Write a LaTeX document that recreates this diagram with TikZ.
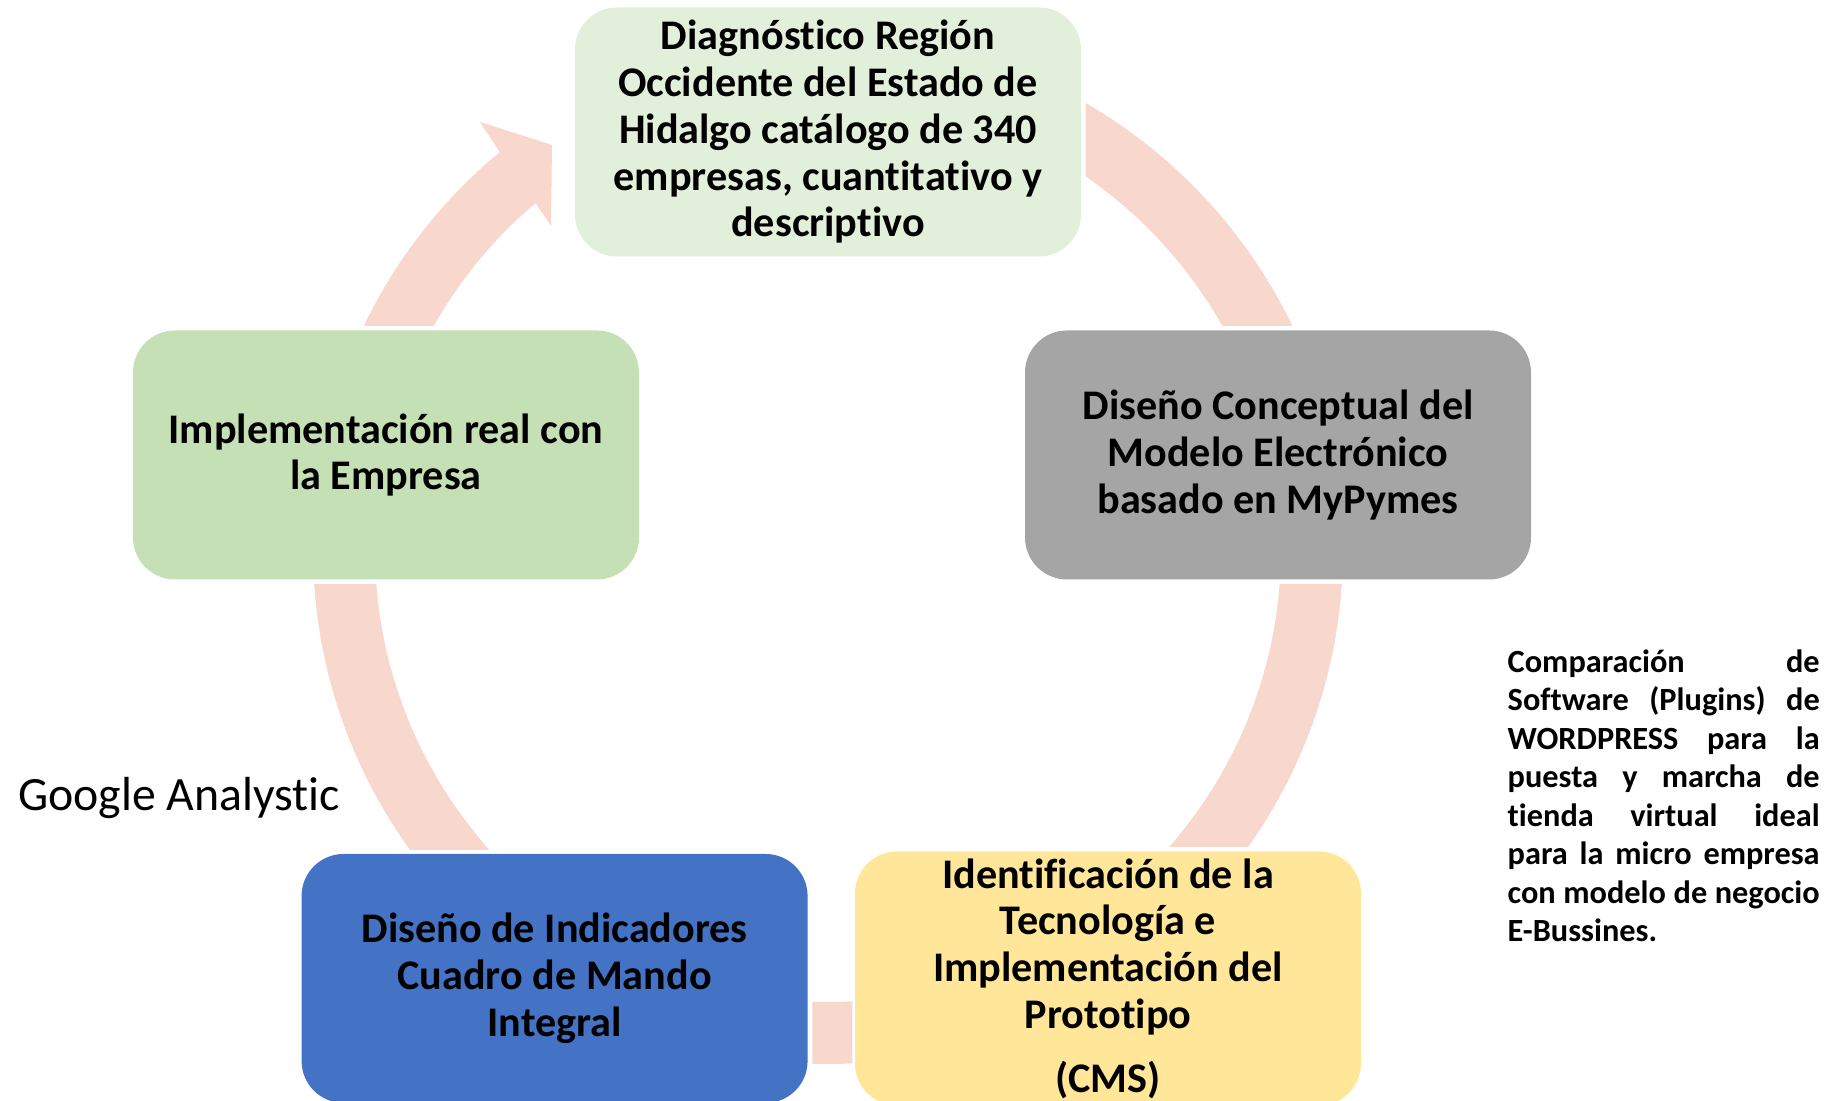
\documentclass[tikz,border=0pt]{standalone}
\usepackage{fontspec}
\setmainfont{Carlito}[Ligatures=NoCommon]
\usetikzlibrary{calc, positioning}
\definecolor{ringcol}{RGB}{248,215,205}
\definecolor{diagcol}{RGB}{226,239,218}
\definecolor{implcol}{RGB}{197,224,180}
\definecolor{disecol}{RGB}{165,165,165}
\definecolor{indiccol}{RGB}{68,114,196}
\definecolor{protocol}{RGB}{255,230,153}
\tikzstyle{ring} = [draw=ringcol, line width=0.62cm]

\begin{document}
\begin{tikzpicture}[
  box/.style={rectangle, rounded corners=0.42cm, minimum width=5.06cm, minimum height=2.49cm, align=center, inner sep=2pt, font=\bfseries\fontsize{12}{13.3}\selectfont},
  note/.style={rectangle, inner sep=0pt, text width=3.12cm, align=justify, font=\bfseries\fontsize{9.2}{10.95}\selectfont}
]
\useasboundingbox (0,0) rectangle (18.32,11.01);
\coordinate (ctr) at (8.28,5.52);

% Steps of the cycle
\node[box, fill=diagcol] (diag) at (8.28,9.69) {Diagnóstico Región\\Occidente del Estado de\\Hidalgo catálogo de 340\\empresas, cuantitativo y\\descriptivo};
\node[box, fill=disecol] (diseno) at (12.78,6.46) {Diseño Conceptual del\\Modelo Electrónico\\basado en MyPymes};
\node[box, fill=protocol] (proto) at (11.08,1.225) {Identificación de la\\Tecnología e\\Implementación del\\Prototipo\\[0.17cm](CMS)};
\node[box, fill=indiccol, left=0.46cm of proto] (indic) {Diseño de Indicadores\\Cuadro de Mando\\Integral};
\node[box, fill=implcol] (impl) at (3.86,6.46) {Implementación real con\\la Empresa};

% Ring pieces between the steps
\begin{scope}
  \clip ([xshift=0.04cm]diag.north east) rectangle ([yshift=0.04cm]diseno.north east);
  \draw[ring] (ctr) circle[radius=4.84];
\end{scope}
\begin{scope}
  \clip ([yshift=-0.04cm]diseno.south west) rectangle ([yshift=0.04cm]proto.north east);
  \draw[ring] (ctr) circle[radius=4.84];
\end{scope}
\begin{scope}
  \clip ([xshift=0.04cm]indic.north east) rectangle ([xshift=-0.02cm]proto.south west);
  \draw[ring] (ctr) circle[radius=4.84];
\end{scope}
\begin{scope}
  \clip ([yshift=-0.04cm]impl.south west) rectangle ([yshift=0.04cm]indic.north east);
  \draw[ring] (ctr) circle[radius=4.84];
\end{scope}
% last piece with the arrow head
\begin{scope}
  \clip ([yshift=0.04cm]impl.north west) rectangle (diag.north west);
  \fill[ringcol] ($(ctr)+(170:5.15)$) arc[start angle=170, end angle=129.6, radius=5.15]
    -- (4.80,9.79) -- (5.52,9.56) -- (5.51,8.75)
    -- ($(ctr)+(130.2:4.53)$) arc[start angle=130.2, end angle=170, radius=4.53] -- cycle;
\end{scope}

% Side texts
\node[anchor=west, inner sep=0pt, font=\fontsize{13.6}{16}\selectfont] (ga) at (0.175,3.03) {Google Analystic};
\node[note, anchor=north west] (cms) at (15.07,4.52) {Comparación de\linebreak Software (Plugins) de\linebreak WORDPRESS para la\linebreak puesta y marcha de\linebreak tienda virtual ideal\linebreak para la micro empresa\linebreak con modelo de negocio\linebreak E-Bussines.};
\end{tikzpicture}
\end{document}
